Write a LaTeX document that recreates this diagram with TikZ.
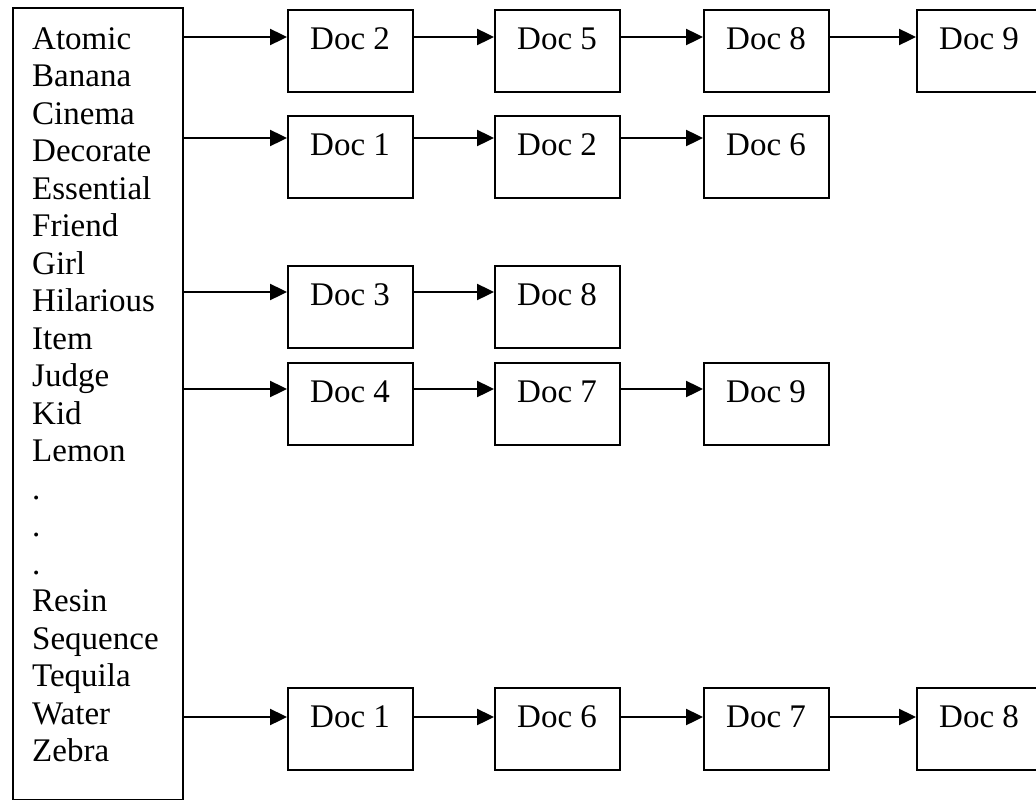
\documentclass[tikz,border=0pt]{standalone}
\usepackage{fontspec}
\setmainfont{Liberation Serif}
\usetikzlibrary{arrows.meta,calc}
\begin{document}
\begin{tikzpicture}[x=1pt,y=-1pt,
  frame/.style={draw, line width=1.8pt, inner sep=0pt, anchor=north west},
  docbox/.style={frame, minimum width=125pt, minimum height=82pt},
  lbl/.style={anchor=base west, inner sep=0pt, font=\fontsize{33pt}{37.5pt}\selectfont},
  arr/.style={line width=2.4pt, -{Triangle[length=17pt,width=16pt]}}]
\useasboundingbox (0,0) rectangle (1036,800);

% dictionary of terms
\node[frame, minimum width=170pt, minimum height=792pt] (terms) at (12,7) {};
\foreach \w [count=\i from 0] in {Atomic,Banana,Cinema,Decorate,Essential,Friend,Girl,Hilarious,Item,Judge,Kid,Lemon,.,.,.,Resin,Sequence,Tequila,Water,Zebra}
  \node[lbl] (w\i) at (32,49+37.5*\i) {\w};

% posting lists
\node[docbox] (b11) at (287,9) {};
\node[docbox] (b12) at (494,9) {};
\node[docbox] (b13) at (703,9) {};
\node[docbox] (b14) at (916,9) {};
\node[docbox] (b21) at (287,115) {};
\node[docbox] (b22) at (494,115) {};
\node[docbox] (b23) at (703,115) {};
\node[docbox] (b31) at (287,265) {};
\node[docbox] (b32) at (494,265) {};
\node[docbox] (b41) at (287,362) {};
\node[docbox] (b42) at (494,362) {};
\node[docbox] (b43) at (703,362) {};
\node[docbox] (b51) at (287,687) {};
\node[docbox] (b52) at (494,687) {};
\node[docbox] (b53) at (703,687) {};
\node[docbox] (b54) at (916,687) {};

\foreach \b/\t in {b11/Doc 2,b12/Doc 5,b13/Doc 8,b14/Doc 9,
                   b21/Doc 1,b22/Doc 2,b23/Doc 6,
                   b31/Doc 3,b32/Doc 8,
                   b41/Doc 4,b42/Doc 7,b43/Doc 9,
                   b51/Doc 1,b52/Doc 6,b53/Doc 7,b54/Doc 8}
  \node[lbl] (\b t) at ([shift={(23pt,-40pt)}]\b.north west) {\t};

% pointer levels on the right edge of the term list
\coordinate (t1) at (terms.east |- 0,37);
\coordinate (t2) at (terms.east |- 0,138);
\coordinate (t3) at (terms.east |- 0,292);
\coordinate (t4) at (terms.east |- 0,389);
\coordinate (t5) at (terms.east |- 0,717);

\draw[arr] (t1) -- (t1 -| b11.west);
\draw[arr] (t1 -| b11.east) -- (t1 -| b12.west);
\draw[arr] (t1 -| b12.east) -- (t1 -| b13.west);
\draw[arr] (t1 -| b13.east) -- (t1 -| b14.west);

\draw[arr] (t2) -- (t2 -| b21.west);
\draw[arr] (t2 -| b21.east) -- (t2 -| b22.west);
\draw[arr] (t2 -| b22.east) -- (t2 -| b23.west);

\draw[arr] (t3) -- (t3 -| b31.west);
\draw[arr] (t3 -| b31.east) -- (t3 -| b32.west);

\draw[arr] (t4) -- (t4 -| b41.west);
\draw[arr] (t4 -| b41.east) -- (t4 -| b42.west);
\draw[arr] (t4 -| b42.east) -- (t4 -| b43.west);

\draw[arr] (t5) -- (t5 -| b51.west);
\draw[arr] (t5 -| b51.east) -- (t5 -| b52.west);
\draw[arr] (t5 -| b52.east) -- (t5 -| b53.west);
\draw[arr] (t5 -| b53.east) -- (t5 -| b54.west);
\end{tikzpicture}
\end{document}
